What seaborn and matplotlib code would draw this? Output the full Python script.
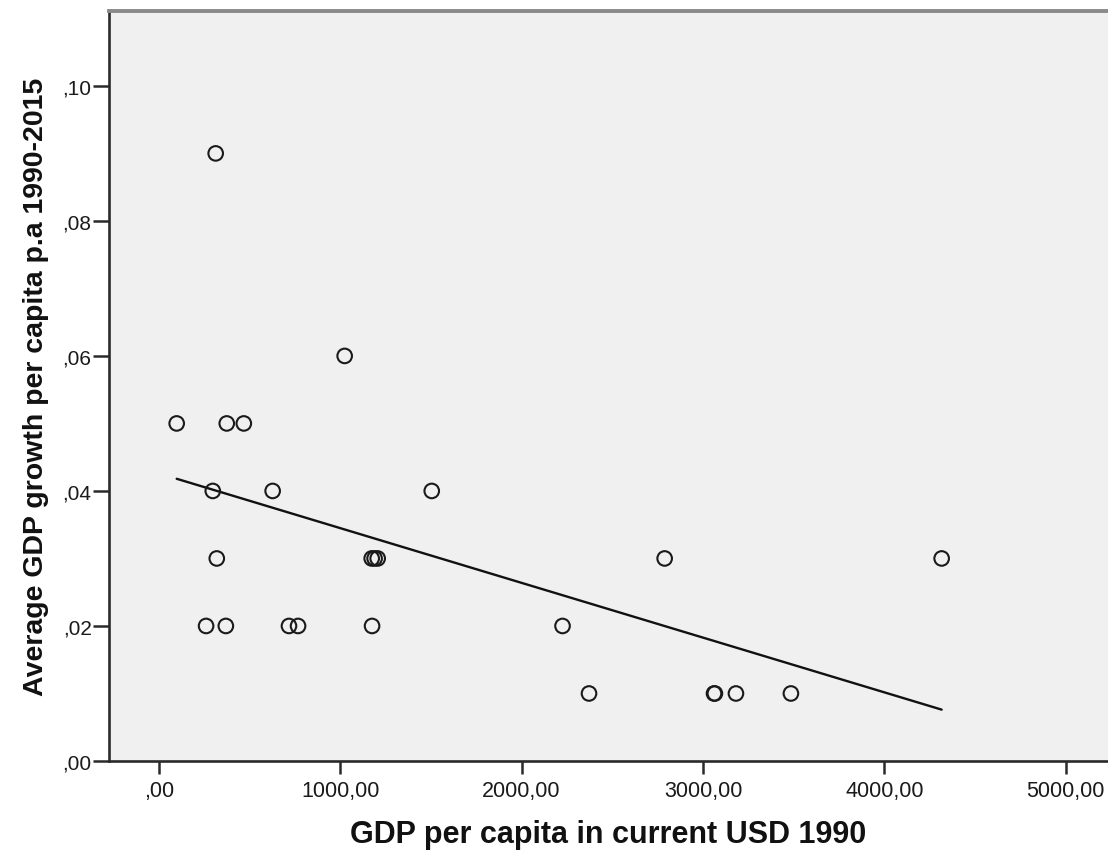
import pandas as pd
import matplotlib
matplotlib.use("Agg")
import matplotlib.pyplot as plt
import matplotlib.ticker as mticker
import seaborn as sns

# Values (GDP per capita 1990 vs. avg growth)
gdp_1990 = [314, 1025, 99, 375, 469, 298, 628, 1505, 320, 1174, 1190, 1207, 2789, 4316,
            261, 370, 718, 768, 1176, 2226, 2372, 3061, 3066, 3182, 3485]
growth = [0.09, 0.06, 0.05, 0.05, 0.05, 0.04, 0.04, 0.04, 0.03, 0.03, 0.03, 0.03, 0.03, 0.03,
          0.02, 0.02, 0.02, 0.02, 0.02, 0.02, 0.01, 0.01, 0.01, 0.01, 0.01]

x_ticks = [0, 1000, 2000, 3000, 4000, 5000]
y_ticks = [0.0, 0.02, 0.04, 0.06, 0.08, 0.10]

x_label = "GDP per capita in current USD 1990"
y_label = "Average GDP growth per capita p.a 1990-2015"

df = pd.DataFrame({x_label: gdp_1990, y_label: growth})

sns.set_style("ticks")
plt.rcParams['font.family'] = ['Liberation Sans', 'DejaVu Sans']


def spss_fmt(v, pos):
    # SPSS style: comma decimal, no leading zero
    s = f"{v:.2f}".replace(".", ",")
    if s.startswith("0,"):
        s = s[1:]
    return s


fig = plt.figure(figsize=(11.08, 8.53), dpi=100)
ax = fig.add_axes([0.0984, 0.1067, 0.9016, 0.8793])
ax.set_facecolor("#f0f0f0")

# open circles + least squares fit line (no CI band, like SPSS)
sns.scatterplot(data=df, x=x_label, y=y_label, ax=ax, marker="o", s=110,
                facecolors="none", edgecolor="#1a1a1a", linewidth=1.5, zorder=3)
sns.regplot(data=df, x=x_label, y=y_label, ax=ax, scatter=False, ci=None,
            line_kws={"color": "#111111", "linewidth": 1.7})

ax.set_xlim(-274, 5233)
ax.set_ylim(0, 0.1111)
ax.set_xticks(x_ticks)
ax.set_yticks(y_ticks)
ax.xaxis.set_major_formatter(mticker.FuncFormatter(spss_fmt))
ax.yaxis.set_major_formatter(mticker.FuncFormatter(spss_fmt))

ax.tick_params(axis="x", direction="out", length=9, width=1.8, color="#2a2a2a",
               labelsize=15.5, labelcolor="#1a1a1a", pad=5)
ax.tick_params(axis="y", direction="out", length=11.5, width=1.8, color="#2a2a2a",
               labelsize=15, labelcolor="#1a1a1a", pad=1)

for side in ["left", "bottom"]:
    ax.spines[side].set_color("#2a2a2a")
    ax.spines[side].set_linewidth(1.9)
ax.spines["top"].set_color("#8a8a8a")
ax.spines["top"].set_linewidth(2.8)
ax.spines["right"].set_visible(False)

ax.set_xlabel(x_label, fontsize=22, fontweight="bold", color="#111111", labelpad=13)
ax.set_ylabel(y_label, fontsize=20.5, fontweight="bold", color="#111111", labelpad=10)

fig.savefig("out.png", dpi=100, facecolor="white")
